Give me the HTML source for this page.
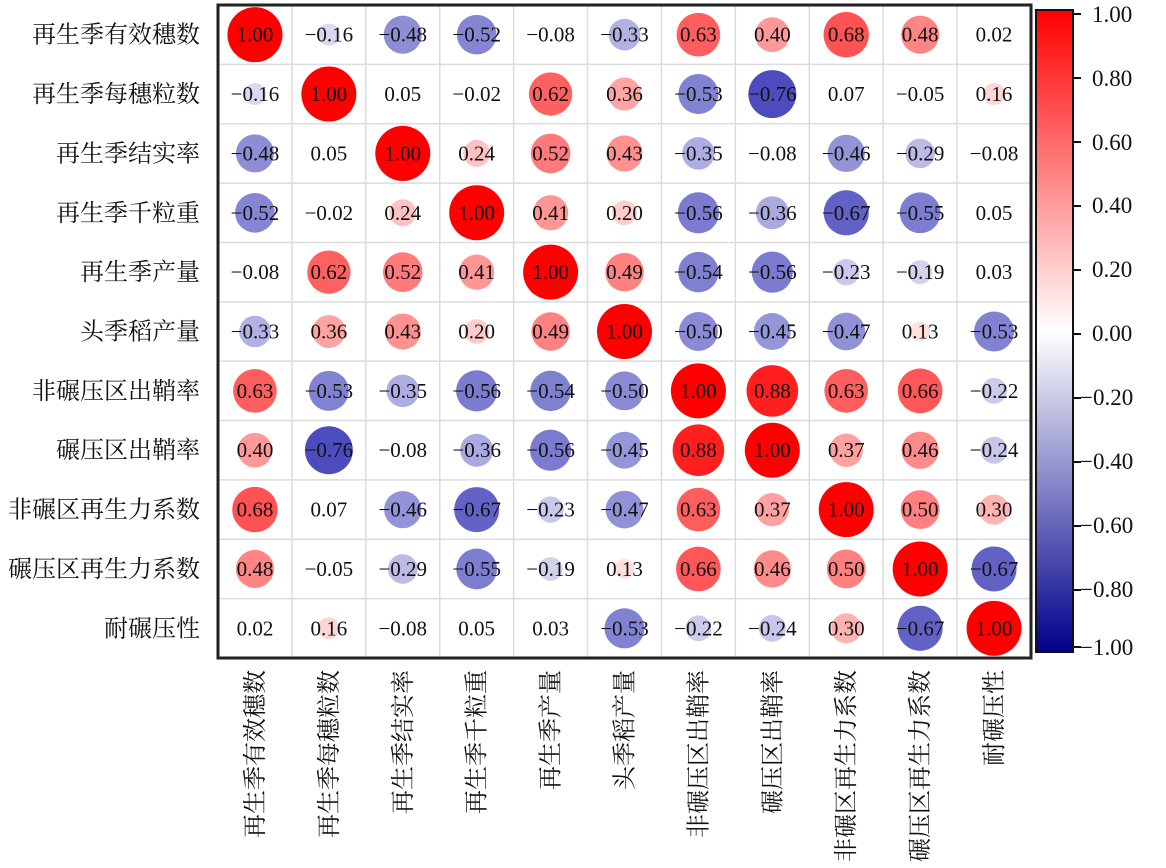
<!DOCTYPE html>
<html><head><meta charset="utf-8"><style>
body{margin:0;background:#fff;width:1166px;height:868px;overflow:hidden}
svg{position:absolute;left:0;top:0}
</style></head><body>
<svg id="s" width="1166" height="868" xmlns="http://www.w3.org/2000/svg">
<defs><linearGradient id="g" x1="0" y1="0" x2="0" y2="1">
<stop offset="0" stop-color="#ff0000"/><stop offset="0.5" stop-color="#ffffff"/><stop offset="1" stop-color="#00008c"/>
</linearGradient></defs>
<g id="cells"></g>
<rect x="218" y="5" width="813" height="653" fill="none" stroke="#222" stroke-width="3"/>
<rect x="1036" y="10" width="37" height="642" fill="url(#g)" stroke="#111" stroke-width="2"/>
<g font-family="Liberation Serif, serif" font-size="23" fill="#111">
<text x="1092" y="22">1.00</text><text x="1092" y="86">0.80</text><text x="1092" y="150">0.60</text><text x="1092" y="213">0.40</text><text x="1092" y="277">0.20</text><text x="1092" y="341">0.00</text><text x="1080" y="405">−0.20</text><text x="1080" y="469">−0.40</text><text x="1080" y="533">−0.60</text><text x="1080" y="597">−0.80</text><text x="1080" y="655">−1.00</text>
</g>
<g stroke="#111" stroke-width="2">
<line x1="1073" y1="14" x2="1081" y2="14"/><line x1="1073" y1="78" x2="1081" y2="78"/><line x1="1073" y1="142" x2="1081" y2="142"/><line x1="1073" y1="206" x2="1081" y2="206"/><line x1="1073" y1="270" x2="1081" y2="270"/><line x1="1073" y1="334" x2="1081" y2="334"/><line x1="1073" y1="398" x2="1081" y2="398"/><line x1="1073" y1="462" x2="1081" y2="462"/><line x1="1073" y1="526" x2="1081" y2="526"/><line x1="1073" y1="590" x2="1081" y2="590"/><line x1="1073" y1="647" x2="1081" y2="647"/>
</g>
<g id="labs" font-family="Liberation Serif, 'Noto Serif CJK SC', serif" font-size="24" fill="#111"></g>
</svg>
<script>
var L=["再生季有效穗数","再生季每穗粒数","再生季结实率","再生季千粒重","再生季产量","头季稻产量","非碾压区出鞘率","碾压区出鞘率","非碾区再生力系数","碾压区再生力系数","耐碾压性"];
var M=[[1,-.16,-.48,-.52,-.08,-.33,.63,.40,.68,.48,.02],
[-.16,1,.05,-.02,.62,.36,-.53,-.76,.07,-.05,.16],
[-.48,.05,1,.24,.52,.43,-.35,-.08,-.46,-.29,-.08],
[-.52,-.02,.24,1,.41,.20,-.56,-.36,-.67,-.55,.05],
[-.08,.62,.52,.41,1,.49,-.54,-.56,-.23,-.19,.03],
[-.33,.36,.43,.20,.49,1,-.50,-.45,-.47,.13,-.53],
[.63,-.53,-.35,-.56,-.54,-.50,1,.88,.63,.66,-.22],
[.40,-.76,-.08,-.36,-.56,-.45,.88,1,.37,.46,-.24],
[.68,.07,-.46,-.67,-.23,-.47,.63,.37,1,.50,.30],
[.48,-.05,-.29,-.55,-.19,.13,.66,.46,.50,1,-.67],
[.02,.16,-.08,.05,.03,-.53,-.22,-.24,.30,-.67,1]];
var NS="http://www.w3.org/2000/svg",x0=218,y0=5,cw=813/11,ch=653/11;
function el(t,a,p){var e=document.createElementNS(NS,t);for(var k in a)e.setAttribute(k,a[k]);p.appendChild(e);return e;}
var g=document.getElementById("cells"),lb=document.getElementById("labs");
for(var i=1;i<11;i++){el("line",{x1:x0+i*cw,y1:y0,x2:x0+i*cw,y2:y0+653,stroke:"#dcdcdc","stroke-width":1.5},g);el("line",{x1:x0,y1:y0+i*ch,x2:x0+813,y2:y0+i*ch,stroke:"#dcdcdc","stroke-width":1.5},g);}
function col(v){var a=Math.abs(v);if(v>=0){var c=Math.round(255*(1-a));return "rgb(255,"+c+","+c+")";}
var r=Math.round(255-a*(255-20)),b=Math.round(255-a*(255-170));return "rgb("+r+","+r+","+b+")";}
for(var r=0;r<11;r++)for(var c=0;c<11;c++){var v=M[r][c],cx=x0+(c+.5)*cw,cy=y0+(r+.5)*ch;
if(Math.abs(v)>0.1)el("circle",{cx:cx,cy:cy,r:27.5*Math.sqrt(Math.abs(v)),fill:col(v)},g);
var s=(v<0?"−":"")+Math.abs(v).toFixed(2);var t=el("text",{x:cx,y:cy+7,"text-anchor":"middle","font-family":"Liberation Serif, serif","font-size":21,fill:"#111"},g);t.textContent=s;}
for(var i=0;i<11;i++){var t=el("text",{x:200,y:y0+(i+.5)*ch+8,"text-anchor":"end"},lb);t.textContent=L[i];
var t2=el("text",{x:0,y:0,transform:"translate("+(x0+(i+.5)*cw+8)+",670) rotate(-90)","text-anchor":"end"},lb);t2.textContent=L[i];}
</script>
</body></html>
